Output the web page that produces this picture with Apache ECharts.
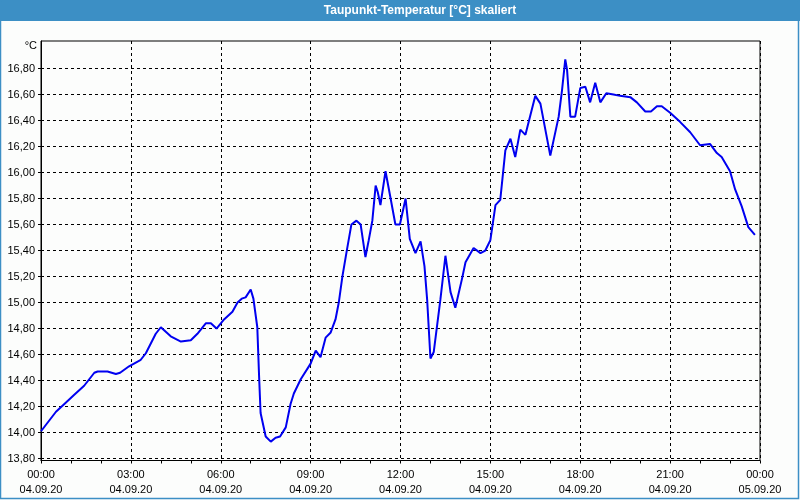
<!DOCTYPE html>
<html><head><meta charset="utf-8">
<script src="https://cdn.jsdelivr.net/npm/echarts@6/dist/echarts.min.js"></script>
<style>html,body{margin:0;padding:0;background:#fcfdfc}#c{width:800px;height:500px}</style>
</head><body><div id="c"></div>
<script>
const chartTitle = 'Taupunkt-Temperatur [°C] skaliert';
const unitLabel = '°C';
const hours = [0,0.5,0.78,1.11,1.44,1.78,1.89,2.22,2.5,2.64,2.94,3.33,3.5,3.83,4.0,4.33,4.67,5.0,5.22,5.5,5.67,5.86,6.11,6.39,6.56,6.7,6.83,7.0,7.09,7.22,7.28,7.33,7.5,7.67,7.83,7.98,8.17,8.33,8.44,8.67,9.0,9.17,9.33,9.5,9.67,9.83,9.94,10.06,10.2,10.36,10.53,10.67,10.83,10.94,11.06,11.17,11.24,11.33,11.5,11.67,11.83,11.98,12.17,12.31,12.5,12.67,12.8,12.89,13.0,13.11,13.33,13.5,13.67,13.83,14.06,14.17,14.44,14.67,14.83,15.0,15.17,15.33,15.5,15.67,15.83,16.0,16.17,16.5,16.67,17.0,17.28,17.39,17.5,17.56,17.67,17.83,18.0,18.17,18.33,18.5,18.67,18.87,19.11,19.33,19.67,19.89,20.17,20.36,20.56,20.72,21.0,21.33,21.67,22.0,22.33,22.56,22.72,23.0,23.17,23.39,23.61,23.83];
const dewPoint = [14.01,14.16,14.22,14.29,14.36,14.46,14.47,14.47,14.45,14.46,14.51,14.56,14.61,14.76,14.81,14.74,14.70,14.71,14.76,14.84,14.84,14.80,14.87,14.93,15.00,15.03,15.04,15.10,15.03,14.81,14.43,14.15,13.97,13.93,13.96,13.97,14.04,14.22,14.30,14.41,14.53,14.63,14.58,14.73,14.77,14.87,15.00,15.20,15.39,15.60,15.63,15.60,15.35,15.48,15.63,15.90,15.85,15.75,16.01,15.80,15.60,15.60,15.80,15.49,15.38,15.47,15.28,15.02,14.57,14.62,15.02,15.36,15.08,14.96,15.19,15.31,15.42,15.38,15.40,15.48,15.75,15.79,16.17,16.26,16.12,16.33,16.29,16.59,16.53,16.13,16.43,16.63,16.87,16.79,16.43,16.43,16.65,16.66,16.54,16.69,16.54,16.61,16.60,16.59,16.58,16.54,16.47,16.47,16.51,16.51,16.46,16.39,16.31,16.21,16.22,16.15,16.12,16.01,15.87,15.74,15.58,15.52];
const yTicks = [13.8,14.0,14.2,14.4,14.6,14.8,15.0,15.2,15.4,15.6,15.8,16.0,16.2,16.4,16.6,16.8];
const xTimeLabels = ['00:00','03:00','06:00','09:00','12:00','15:00','18:00','21:00','00:00'];
const xDateLabels = ['04.09.20','04.09.20','04.09.20','04.09.20','04.09.20','04.09.20','04.09.20','04.09.20','05.09.20'];

const font = 'Liberation Sans, Arial, sans-serif';
const chart = echarts.init(document.getElementById('c'), null, {renderer:'canvas'});
const grid = {left:41, right:40, top:41, bottom:39.5};
chart.setOption({
  backgroundColor:'#fcfdfc',
  animation:false,
  graphic:[
    {type:'rect', shape:{x:0,y:0,width:800,height:21}, style:{fill:'#3c8fc5'}, z:-1},
    {type:'rect', shape:{x:0.5,y:0.5,width:798,height:498}, style:{fill:null,stroke:'#3c8fc5',lineWidth:1.5}, z:-1},
    {type:'text', x:420, y:11, style:{text:chartTitle, fill:'#ffffff', font:'bold 12px '+font, textAlign:'center', textVerticalAlign:'middle'}},
    {type:'text', x:37, y:46, style:{text:unitLabel, fill:'#000', font:'11px '+font, textAlign:'right', textVerticalAlign:'middle'}}
  ],
  grid: Object.assign({show:true, borderColor:'#000', borderWidth:1, backgroundColor:'transparent'}, grid),
  xAxis:{
    type:'value', min:0, max:24, interval:3,
    axisLine:{show:true, lineStyle:{color:'#000', width:1}},
    axisTick:{show:true, length:3, lineStyle:{color:'#000'}},
    minorTick:{show:true, splitNumber:3, length:3, lineStyle:{color:'#000'}},
    splitLine:{show:true, lineStyle:{color:'#000', type:[3,3], width:1}},
    axisLabel:{
      margin:7, lineHeight:15, color:'#000', fontFamily:font, fontSize:11,
      formatter:function(v){ const i = Math.round(v/3); return xTimeLabels[i] + '\n' + xDateLabels[i]; }
    }
  },
  yAxis:{
    type:'value', min:13.785, max:17.012,
    axisLine:{show:true, lineStyle:{color:'#000', width:1}},
    axisTick:{show:true, length:3, customValues:yTicks, lineStyle:{color:'#000'}},
    splitLine:{show:true, lineStyle:{color:'#000', type:[3,3], width:1}},
    axisLabel:{
      margin:6, color:'#000', fontFamily:font, fontSize:11, customValues:yTicks,
      formatter:function(v){ return v.toFixed(2).replace('.', ','); }
    }
  },
  series:[{
    type:'line', data: hours.map((h,i)=>[h, dewPoint[i]]),
    showSymbol:false, symbol:'none', smooth:false,
    lineStyle:{color:'#0000f0', width:2}
  }]
});
</script></body></html>
